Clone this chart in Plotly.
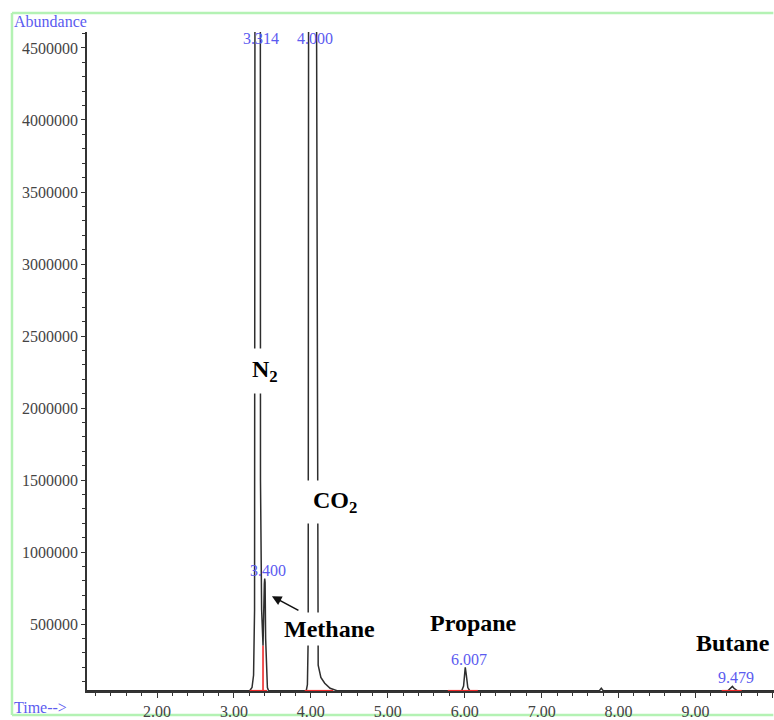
import plotly.graph_objects as go

# ---- chromatogram trace (time in min, abundance) ----
time = [1.09, 3.205, 3.235, 3.255, 3.268, 3.273, 3.314, 3.338, 3.345, 3.36, 3.378,
        3.395, 3.400, 3.405, 3.412, 3.425, 3.435, 3.45,
        3.94, 3.955, 3.965, 3.970, 4.000, 4.074, 4.085, 4.095, 4.13, 4.18, 4.25, 4.34,
        5.96, 5.985, 6.0, 6.007, 6.02, 6.04, 6.065,
        7.75, 7.775, 7.80,
        9.42, 9.46, 9.479, 9.50, 9.54, 10.1]
abundance = [38000, 38000, 60000, 145000, 600000, 4.7e6, 6.0e7, 4.7e6, 1.5e6, 600000, 350000,
             780000, 816000, 790000, 400000, 150000, 60000, 38000,
             38000, 80000, 400000, 4.7e6, 8.0e7, 4.7e6, 500000, 215000, 130000, 90000, 55000, 38000,
             38000, 70000, 160000, 200000, 150000, 60000, 38000,
             38000, 55000, 38000,
             38000, 55000, 68000, 55000, 38000, 38000]

# ---- integration marks (red) ----
red_x0 = [3.205, 3.378, 3.92, 5.78, 9.34]
red_x1 = [3.43, 3.378, 4.29, 6.17, 9.60]
red_y0 = [38000, 38000, 38000, 38000, 38000]
red_y1 = [38000, 350000, 38000, 38000, 38000]

# ---- retention-time labels (blue) ----
rt_text = ["3.314", "4.000", "3.400", "6.007", "9.479"]
rt_x = [3.351, 4.052, 3.448, 6.052, 9.532]
rt_y = [4566000, 4566000, 873700, 257800, 126300]

# ---- compound labels ----
cmp_text = ["N<sub>2</sub>", "CO<sub>2</sub>", "Methane", "Propane", "Butane"]
cmp_x = [3.403, 4.312, 4.247, 6.117, 9.481]
cmp_y = [2260000, 1350000, 465000, 507000, 369000]
cmp_bg = ["white", "white", "white", "rgba(0,0,0,0)", "rgba(0,0,0,0)"]
cmp_pad = [7, 6, 3, 3, 3]

x_range = [1.09, 10.02]
y_range = [36000, 4610700]

fig = go.Figure()
fig.add_trace(go.Scatter(x=time, y=abundance, mode="lines",
                         line=dict(color="#2e2e2e", width=1.5), hoverinfo="skip"))

rx, ry = [], []
for a, b, c, d in zip(red_x0, red_x1, red_y0, red_y1):
    rx += [a, b, None]
    ry += [c, d, None]
fig.add_trace(go.Scatter(x=rx, y=ry, mode="lines",
                         line=dict(color="#ee2a2a", width=1.6), hoverinfo="skip"))

serif = "Liberation Serif"
blue = "#5b5bf0"
ann = []
for t, x, y in zip(rt_text, rt_x, rt_y):
    ann.append(dict(x=x, y=y, xref="x", yref="y", text=t, showarrow=False,
                    font=dict(family=serif, size=16, color=blue)))
for t, x, y, bg, p in zip(cmp_text, cmp_x, cmp_y, cmp_bg, cmp_pad):
    ann.append(dict(x=x, y=y, xref="x", yref="y", text="<b>" + t + "</b>", showarrow=False,
                    bgcolor=bg, borderpad=p,
                    font=dict(family=serif, size=24, color="black")))
# arrow pointing to methane peak
ann.append(dict(x=3.494, y=694000, xref="x", yref="y", text="", showarrow=True,
                ax=28, ay=15, arrowhead=2, arrowsize=1.2, arrowwidth=1.6, arrowcolor="#111"))
ann.append(dict(x=-0.1092, y=1.0, xref="paper", yref="paper", text="Abundance",
                showarrow=False, xanchor="left", yanchor="bottom",
                font=dict(family=serif, size=16, color=blue)))
ann.append(dict(x=-0.1092, y=-0.0257, xref="paper", yref="paper", text="Time-->",
                showarrow=False, xanchor="left", yanchor="middle",
                font=dict(family=serif, size=16, color=blue)))

frame = dict(color="#b4f2b4", width=2.5)
fx0, fx1, fy0, fy1 = -0.1092, 0.999, -0.0363, 1.0287
shapes = [
    dict(type="line", xref="paper", yref="paper", x0=fx0, x1=fx1, y0=fy1, y1=fy1, line=frame, layer="below"),
    dict(type="line", xref="paper", yref="paper", x0=fx0, x1=fx1, y0=fy0, y1=fy0, line=frame, layer="below"),
    dict(type="line", xref="paper", yref="paper", x0=fx0, x1=fx0, y0=fy0, y1=fy1, line=frame, layer="below"),
]

fig.update_layout(
    width=774, height=720, autosize=False,
    margin=dict(l=87, r=0, t=32, b=27),
    paper_bgcolor="white", plot_bgcolor="white",
    showlegend=False,
    annotations=ann,
    shapes=shapes,
    xaxis=dict(range=x_range, tick0=0, dtick=1, tickformat=".2f",
               showgrid=False, zeroline=False, showline=True, linecolor="#333", linewidth=1.5,
               ticks="outside", ticklen=5, tickwidth=1.3, tickcolor="#333",
               minor=dict(dtick=0.2, tick0=0, ticks="outside", ticklen=3, tickcolor="#333", tickwidth=1.2),
               tickfont=dict(family=serif, size=16, color="#444")),
    yaxis=dict(range=y_range, tick0=0, dtick=500000, tickformat="d",
               showgrid=False, zeroline=False, showline=True, linecolor="#333", linewidth=1.5,
               ticks="outside", ticklen=4, tickwidth=1.3, tickcolor="#333",
               minor=dict(dtick=100000, tick0=0, ticks="outside", ticklen=3, tickcolor="#333", tickwidth=1.2),
               tickfont=dict(family=serif, size=16, color="#444")),
)

fig.write_html("out.html", config={"displayModeBar": False},
               post_script="document.body.style.margin='0';")
